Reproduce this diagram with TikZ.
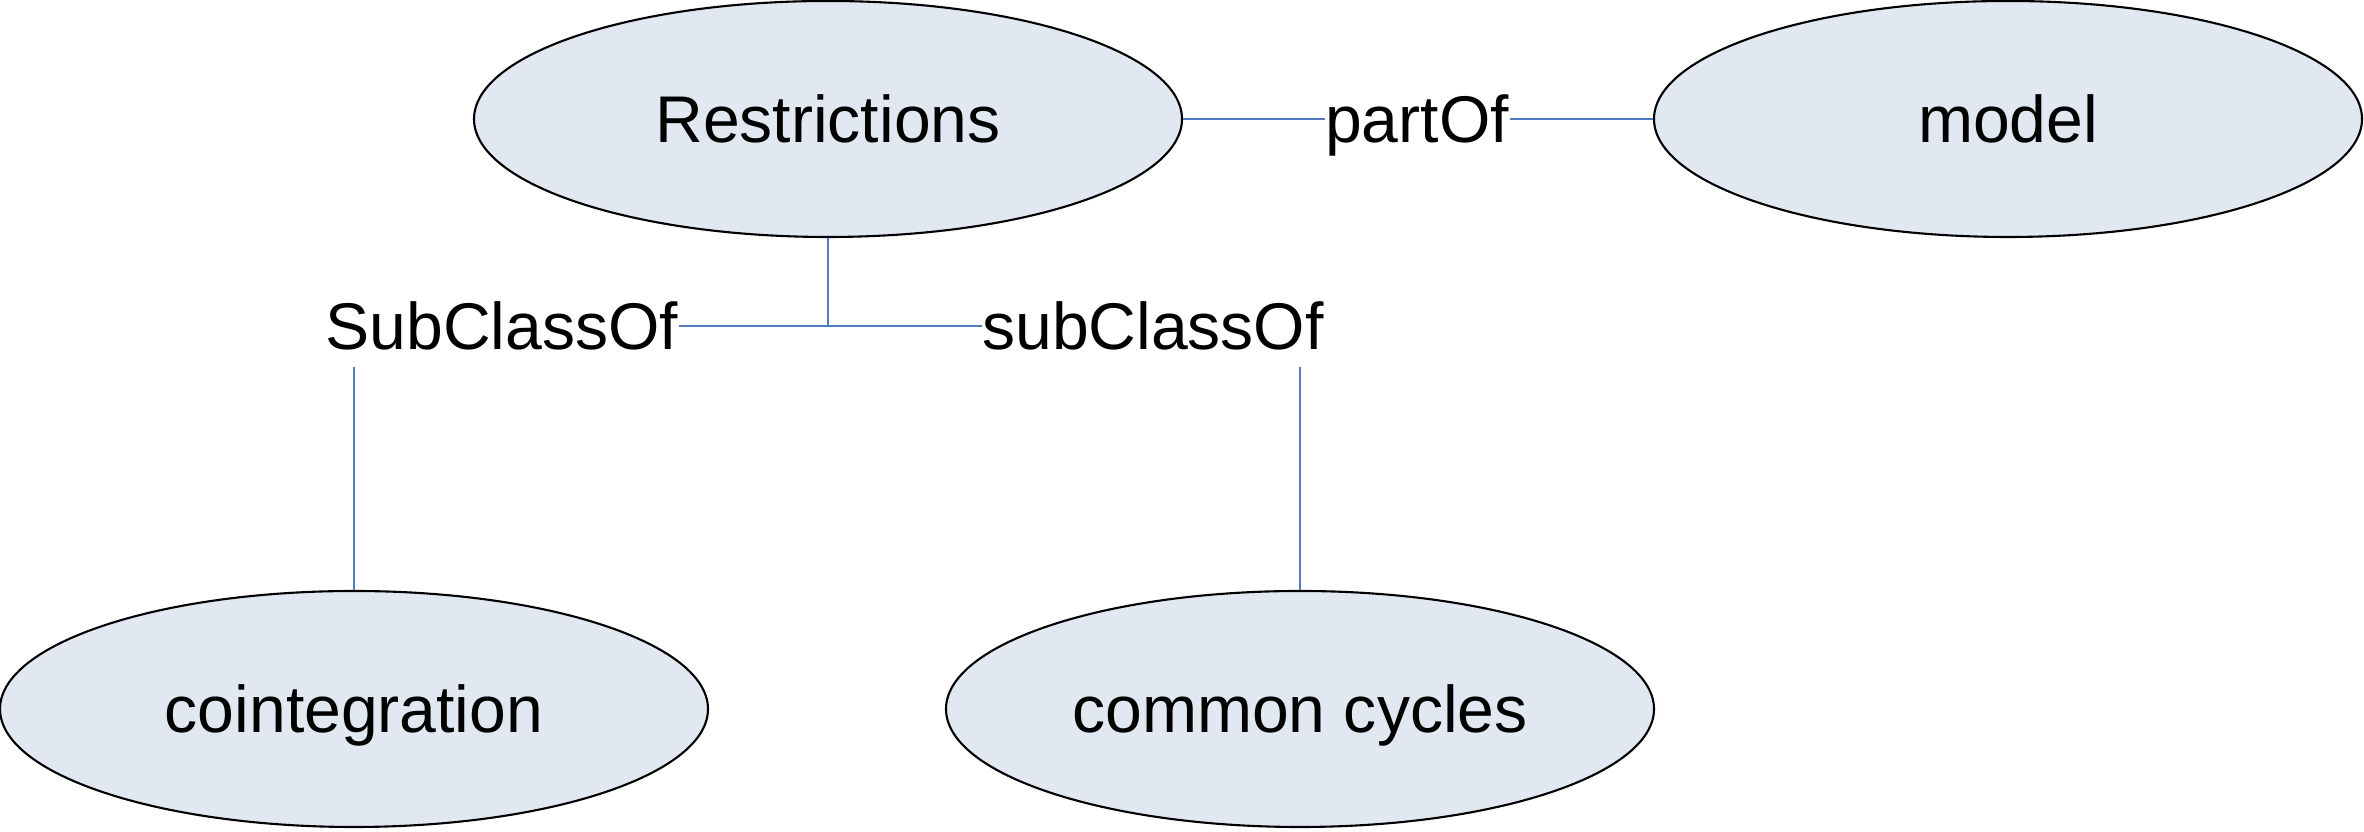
\documentclass[tikz,border=0pt]{standalone}
\usepackage{fontspec}
\setmainfont{Liberation Sans}
\usetikzlibrary{shapes.geometric, positioning, calc}

\definecolor{classfill}{HTML}{E1E8F2}
\definecolor{linkblue}{HTML}{4F7CC0}

\begin{document}
\begin{tikzpicture}[
    every node/.style={font=\fontsize{18.8}{22}\selectfont, text depth=0pt},
    concept/.style={ellipse, draw=black, line width=0.6pt, fill=classfill, minimum width=7.08cm, minimum height=2.36cm, inner sep=0pt},
    relation/.style={inner sep=0pt, fill=white},
    link/.style={draw=linkblue, line width=0.45pt}
]
    \useasboundingbox (0,0) rectangle (23.64,8.32);

    \node (restrictions) [concept] at (8.28,7.13) {Restrictions};
    \node (model) [concept] at (20.08,7.13) {model};
    \node (cointegration) [concept] at (3.54,1.23) {cointegration};
    \node (cycles) [concept] at (13.00,1.23) {common cycles};

    \node (partof) [relation] at (14.17,7.13) {partOf};
    \node (subleft) [relation] at (5.02,5.06) {SubClassOf};
    \node (subright) [relation] at (11.53,5.06) {subClassOf};
    \coordinate (junction) at (restrictions.south |- subleft);

    \draw [link] (restrictions.east) -- (partof.west);
    \draw [link] (partof.east) -- (model.west);
    \draw [link] (restrictions.south) -- (junction);
    \draw [link] (subleft.east) -- (subright.west);
    \draw [link] (cointegration.north) -- ($(cointegration.north |- subleft.south) + (0,-0.16)$);
    \draw [link] (cycles.north) -- ($(cycles.north |- subright.south) + (0,-0.16)$);
\end{tikzpicture}
\end{document}
